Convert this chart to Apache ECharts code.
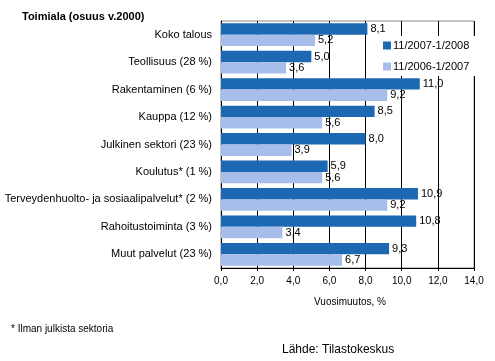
<!DOCTYPE html>
<html><head><meta charset="utf-8">
<script src="https://cdn.jsdelivr.net/npm/echarts@6/dist/echarts.min.js"></script>
<style>html,body{margin:0;padding:0;background:#fff}#c{width:495px;height:361px}</style>
</head><body><div id="c"></div>
<script>
var categories = ["Koko talous","Teollisuus (28 %)","Rakentaminen (6 %)","Kauppa (12 %)","Julkinen sektori (23 %)","Koulutus* (1 %)","Terveydenhuolto- ja sosiaalipalvelut* (2 %)","Rahoitustoiminta (3 %)","Muut palvelut (23 %)"];
var seriesNames = ["11/2007-1/2008","11/2006-1/2007"];
var values2008 = [8.1,5.0,11.0,8.5,8.0,5.9,10.9,10.8,9.3];
var values2007 = [5.2,3.6,9.2,5.6,3.9,5.6,9.2,3.4,6.7];
var xTicks = [0,2,4,6,8,10,12,14];

var FONT = 'Arial, "Liberation Sans", sans-serif';
function fmt(v){ return v.toFixed(1).replace('.', ','); }
var chart = echarts.init(document.getElementById('c'), null, {renderer:'canvas'});
var labelCfg = {show:true, position:'right', distance:3, color:'#000', fontSize:11, fontFamily:FONT,
  formatter:function(p){return fmt(p.value);}};
chart.setOption({
  animation:false,
  backgroundColor:'#fff',
  title:[
    {text:'Toimiala (osuus v.2000)', left:17, top:6, textStyle:{fontSize:11, fontWeight:'bold', color:'#000', fontFamily:FONT}},
    {text:'Vuosimuutos, %', left:345, top:292, textAlign:'center', textStyle:{fontSize:10, fontWeight:'normal', color:'#000', fontFamily:FONT}},
    {text:'* Ilman julkista sektoria', left:6, top:319, textStyle:{fontSize:10, fontWeight:'normal', color:'#000', fontFamily:FONT}},
    {text:'Lähde: Tilastokeskus', left:277, top:339, textStyle:{fontSize:12, fontWeight:'normal', color:'#000', fontFamily:FONT}}
  ],
  legend:{
    orient:'vertical', left:379, top:36, itemWidth:8, itemHeight:8, itemGap:10,
    backgroundColor:'#fff', padding:[4,6,4,4],
    textStyle:{fontSize:11, color:'#000', fontFamily:FONT, padding:[0,0,0,-3]},
    icon:'rect', data:seriesNames
  },
  grid:{left:221, right:21, top:21, bottom:93, show:true, borderColor:'#888', borderWidth:1, backgroundColor:'transparent'},
  xAxis:{
    type:'value', min:xTicks[0], max:xTicks[xTicks.length-1], interval:2,
    axisLine:{show:true, lineStyle:{color:'#000'}},
    axisTick:{show:true, length:3, lineStyle:{color:'#000'}},
    axisLabel:{fontSize:10, color:'#000', fontFamily:FONT, margin:8, formatter:function(v){return fmt(v);}},
    splitLine:{show:true, lineStyle:{color:'#000', width:1}}
  },
  yAxis:{
    type:'category', data:categories, inverse:true,
    axisLine:{show:true, lineStyle:{color:'#000'}},
    axisTick:{show:false},
    axisLabel:{fontSize:11, color:'#000', fontFamily:FONT, margin:9}
  },
  series:[
    {name:seriesNames[0], type:'bar', data:values2008, barGap:'0%', barCategoryGap:'17%',
      itemStyle:{color:'#1C68B2'}, label:labelCfg},
    {name:seriesNames[1], type:'bar', data:values2007, barGap:'0%', barCategoryGap:'17%',
      itemStyle:{color:'#A7BEEA'}, label:labelCfg}
  ]
});
</script></body></html>
